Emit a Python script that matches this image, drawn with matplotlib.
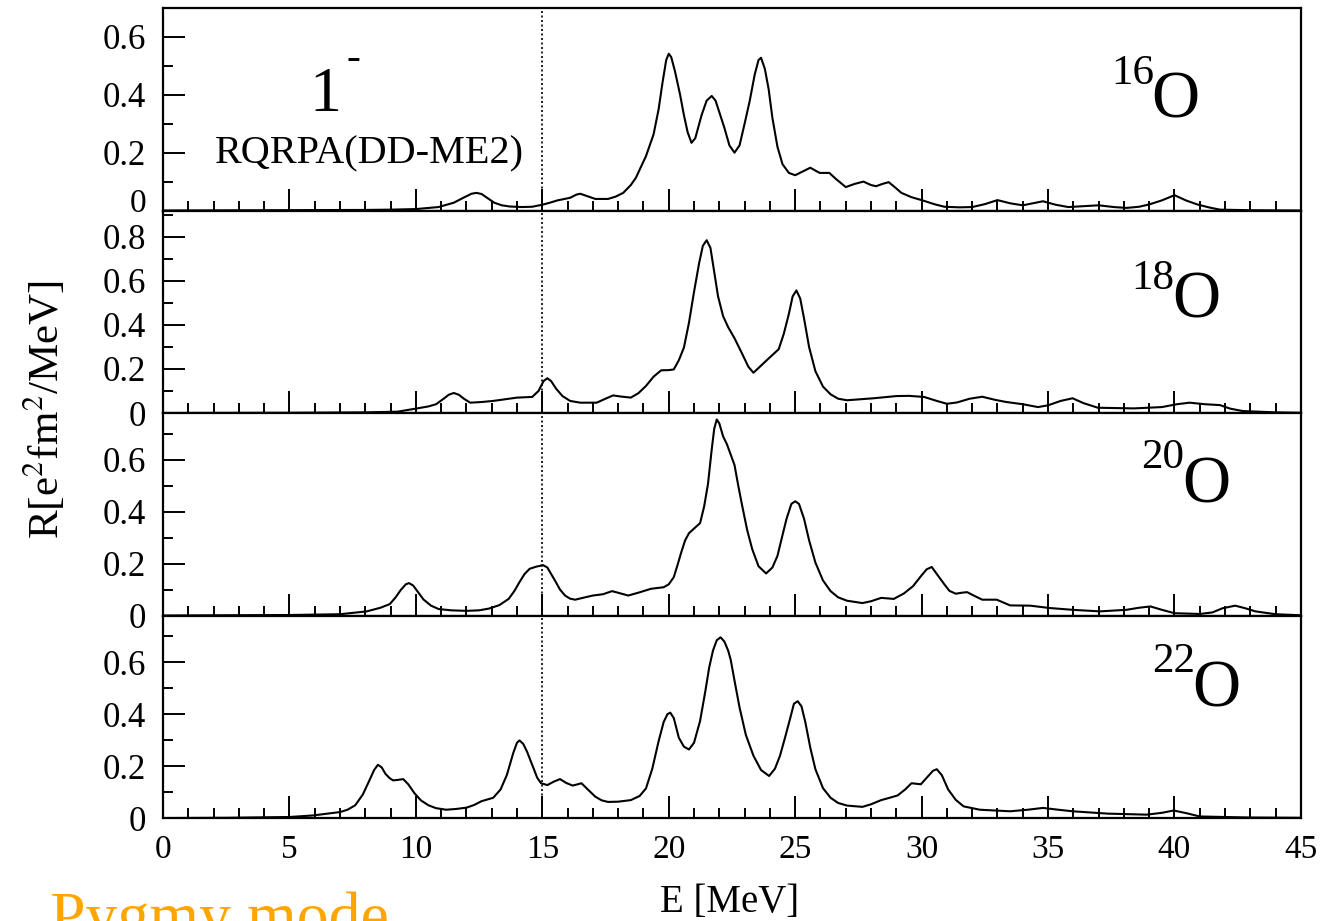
import numpy as np
import matplotlib
matplotlib.use("Agg")
import matplotlib.pyplot as plt
from matplotlib.ticker import MultipleLocator, FuncFormatter

plt.rcParams['font.family'] = ['Liberation Serif', 'DejaVu Serif']
plt.rcParams['mathtext.fontset'] = 'stix'

# RQRPA (DD-ME2) E1 strength for the oxygen chain
E16 = [0, 4, 8, 9, 10, 10.9, 11.5, 11.9, 12.2, 12.4, 12.6, 12.85, 13.1, 13.4,
       13.7, 14.2, 14.6, 15.0, 15.3, 15.6, 16.1, 16.35, 16.5, 16.7, 17.1, 17.6,
       17.9, 18.2, 18.5, 18.7, 19.1, 19.4, 19.6, 19.75, 19.9, 20.0, 20.1, 20.25,
       20.45, 20.6, 20.75, 20.9, 21.05, 21.3, 21.5, 21.7, 21.85, 22.0, 22.2,
       22.4, 22.6, 22.8, 23.0, 23.2, 23.4, 23.55, 23.65, 23.8, 23.95, 24.1,
       24.3, 24.5, 24.75, 25.0, 25.3, 25.6, 25.8, 25.97, 26.35, 26.6, 27.0,
       27.35, 27.7, 28.0, 28.2, 28.45, 28.7, 28.95, 29.2, 29.6, 30.0, 30.5,
       30.9, 31.5, 32.0, 32.5, 33.0, 33.5, 34.0, 34.4, 34.8, 35.3, 35.8, 36.4,
       37.0, 37.6, 38.1, 38.6, 39.0, 39.5, 40.0, 40.45, 40.9, 41.4, 41.8, 43, 45]
R16 = [0, 0.001, 0.002, 0.003, 0.005, 0.012, 0.027, 0.045, 0.058, 0.061, 0.057,
       0.042, 0.027, 0.018, 0.014, 0.012, 0.013, 0.02, 0.027, 0.035, 0.044,
       0.055, 0.058, 0.052, 0.040, 0.040, 0.048, 0.061, 0.088, 0.113, 0.188,
       0.263, 0.35, 0.44, 0.52, 0.542, 0.53, 0.48, 0.40, 0.33, 0.27, 0.234,
       0.25, 0.33, 0.38, 0.396, 0.38, 0.34, 0.286, 0.225, 0.20, 0.225, 0.30,
       0.378, 0.47, 0.52, 0.528, 0.49, 0.42, 0.32, 0.22, 0.16, 0.13, 0.122,
       0.135, 0.148, 0.138, 0.130, 0.130, 0.11, 0.081, 0.092, 0.10, 0.088,
       0.084, 0.092, 0.098, 0.08, 0.061, 0.046, 0.036, 0.022, 0.013, 0.011,
       0.012, 0.022, 0.036, 0.025, 0.018, 0.025, 0.032, 0.02, 0.012, 0.015,
       0.018, 0.012, 0.009, 0.013, 0.021, 0.035, 0.053, 0.035, 0.021, 0.01,
       0.003, 0.001, 0]

E18 = [0, 5, 8, 9.27, 10.0, 10.5, 10.8, 11.1, 11.3, 11.5, 11.7, 11.9, 12.15,
       12.6, 13.06, 13.5, 14.0, 14.6, 14.85, 15.05, 15.2, 15.35, 15.55, 15.8,
       16.1, 16.5, 17.15, 17.5, 17.8, 18.1, 18.5, 18.8, 19.1, 19.4, 19.7, 20.0,
       20.2, 20.4, 20.6, 20.8, 21.0, 21.2, 21.35, 21.5, 21.65, 21.8, 21.95,
       22.15, 22.35, 22.6, 22.9, 23.15, 23.35, 23.6, 23.97, 24.35, 24.55,
       24.75, 24.9, 25.05, 25.2, 25.35, 25.55, 25.8, 26.1, 26.4, 26.7, 27.05,
       28.1, 29.0, 29.5, 30.1, 30.6, 31.0, 31.4, 31.9, 32.4, 32.9, 33.35, 34.0,
       34.6, 35.0, 35.5, 35.97, 36.4, 36.97, 38.4, 39.5, 40.1, 40.6, 41.2,
       41.8, 42.2, 42.7, 44, 45]
R18 = [0, 0.001, 0.003, 0.006, 0.02, 0.03, 0.04, 0.065, 0.083, 0.091, 0.083,
       0.065, 0.047, 0.05, 0.055, 0.062, 0.07, 0.073, 0.10, 0.145, 0.158,
       0.145, 0.11, 0.077, 0.055, 0.047, 0.047, 0.065, 0.080, 0.075, 0.07,
       0.09, 0.123, 0.165, 0.194, 0.195, 0.198, 0.24, 0.297, 0.41, 0.55, 0.68,
       0.76, 0.785, 0.75, 0.64, 0.53, 0.44, 0.39, 0.34, 0.27, 0.21, 0.183,
       0.21, 0.25, 0.29, 0.36, 0.45, 0.53, 0.557, 0.52, 0.43, 0.30, 0.19, 0.12,
       0.085, 0.065, 0.058, 0.067, 0.077, 0.078, 0.073, 0.055, 0.042, 0.048,
       0.065, 0.074, 0.06, 0.05, 0.04, 0.027, 0.035, 0.055, 0.067, 0.045,
       0.024, 0.021, 0.027, 0.04, 0.047, 0.04, 0.036, 0.02, 0.009, 0.003,
       0.001]

E20 = [0, 5, 7.0, 8.06, 8.6, 8.97, 9.2, 9.4, 9.6, 9.73, 9.9, 10.05, 10.3,
       10.6, 10.9, 11.4, 12.0, 12.5, 12.9, 13.3, 13.67, 13.9, 14.1, 14.3,
       14.5, 14.75, 15.03, 15.2, 15.35, 15.5, 15.7, 15.9, 16.1, 16.3, 16.6,
       17.0, 17.4, 17.76, 18.1, 18.4, 18.8, 19.3, 19.8, 20.0, 20.2, 20.35,
       20.5, 20.65, 20.8, 21.0, 21.24, 21.4, 21.55, 21.7, 21.8, 21.9, 22.0,
       22.15, 22.3, 22.45, 22.6, 22.75, 22.9, 23.1, 23.3, 23.55, 23.85, 24.1,
       24.3, 24.5, 24.66, 24.85, 25.0, 25.15, 25.35, 25.55, 25.8, 26.1, 26.4,
       26.7, 27.05, 27.66, 28.0, 28.4, 28.9, 29.3, 29.66, 30.0, 30.2, 30.4,
       30.6, 30.9, 31.1, 31.35, 31.6, 31.8, 32.1, 32.4, 32.97, 33.5, 34.3,
       35.05, 35.97, 37.05, 38.1, 38.6, 39.05, 39.5, 40.0, 41.0, 41.5, 41.9,
       42.4, 42.8, 43.2, 44.0, 45]
R20 = [0, 0.002, 0.005, 0.016, 0.03, 0.044, 0.07, 0.098, 0.12, 0.125, 0.115,
       0.095, 0.062, 0.038, 0.025, 0.02, 0.018, 0.02, 0.027, 0.04, 0.064,
       0.095, 0.129, 0.16, 0.18, 0.188, 0.194, 0.185, 0.16, 0.135, 0.10, 0.077,
       0.065, 0.061, 0.068, 0.077, 0.082, 0.094, 0.085, 0.077, 0.088, 0.103,
       0.109, 0.12, 0.148, 0.195, 0.245, 0.29, 0.317, 0.335, 0.356, 0.42,
       0.505, 0.64, 0.72, 0.755, 0.74, 0.69, 0.66, 0.62, 0.58, 0.50, 0.425,
       0.33, 0.256, 0.19, 0.162, 0.185, 0.23, 0.31, 0.373, 0.43, 0.44, 0.43,
       0.373, 0.29, 0.204, 0.135, 0.094, 0.07, 0.057, 0.048, 0.055, 0.068,
       0.064, 0.085, 0.113, 0.155, 0.178, 0.187, 0.16, 0.12, 0.095, 0.084,
       0.088, 0.09, 0.075, 0.061, 0.061, 0.039, 0.038, 0.029, 0.022, 0.016,
       0.022, 0.03, 0.035, 0.022, 0.009, 0.006, 0.012, 0.028, 0.038, 0.028,
       0.016, 0.005, 0.001]

E22 = [0, 2.5, 5.0, 5.94, 7.0, 7.3, 7.6, 7.9, 8.14, 8.35, 8.5, 8.65, 8.8,
       8.97, 9.1, 9.3, 9.5, 9.7, 9.95, 10.2, 10.5, 10.8, 11.2, 11.6, 12.0,
       12.3, 12.6, 13.06, 13.35, 13.6, 13.85, 14.0, 14.1, 14.25, 14.4, 14.6,
       14.8, 14.95, 15.2, 15.45, 15.7, 15.95, 16.2, 16.4, 16.55, 16.8, 17.1,
       17.35, 17.6, 18.0, 18.5, 18.85, 19.1, 19.35, 19.6, 19.8, 19.95, 20.06,
       20.2, 20.4, 20.6, 20.8, 21.0, 21.24, 21.45, 21.6, 21.75, 21.9, 22.05,
       22.2, 22.35, 22.45, 22.6, 22.8, 23.05, 23.35, 23.65, 23.97, 24.2, 24.4,
       24.6, 24.8, 24.95, 25.1, 25.25, 25.4, 25.6, 25.8, 26.1, 26.4, 26.7,
       27.05, 27.66, 28.0, 28.4, 28.7, 29.05, 29.35, 29.6, 29.97, 30.2, 30.45,
       30.6, 30.8, 31.05, 31.35, 31.66, 32.3, 33.5, 34.2, 34.8, 35.4, 35.97,
       37.35, 38.9, 39.5, 39.97, 40.5, 41.0, 43, 45]
R22 = [0, 0.001, 0.004, 0.01, 0.023, 0.032, 0.049, 0.09, 0.14, 0.185, 0.205,
       0.195, 0.17, 0.153, 0.145, 0.147, 0.15, 0.13, 0.095, 0.068, 0.049,
       0.038, 0.032, 0.035, 0.04, 0.05, 0.065, 0.078, 0.11, 0.166, 0.25, 0.29,
       0.299, 0.285, 0.255, 0.205, 0.155, 0.134, 0.127, 0.14, 0.15, 0.135,
       0.125, 0.13, 0.134, 0.11, 0.082, 0.068, 0.062, 0.063, 0.069, 0.085,
       0.114, 0.19, 0.296, 0.37, 0.40, 0.406, 0.385, 0.309, 0.275, 0.264, 0.29,
       0.374, 0.49, 0.58, 0.645, 0.685, 0.696, 0.68, 0.645, 0.61, 0.53, 0.426,
       0.32, 0.24, 0.185, 0.162, 0.19, 0.24, 0.31, 0.383, 0.44, 0.45, 0.43,
       0.37, 0.27, 0.188, 0.115, 0.078, 0.058, 0.048, 0.043, 0.053, 0.069,
       0.077, 0.087, 0.11, 0.134, 0.13, 0.155, 0.182, 0.188, 0.165, 0.11, 0.07,
       0.045, 0.032, 0.026, 0.032, 0.039, 0.032, 0.026, 0.017, 0.013, 0.02,
       0.029, 0.018, 0.006, 0.002, 0.001]

mass_numbers = ["16", "18", "20", "22"]
energies = [E16, E18, E20, E22]
strengths = [R16, R18, R20, R22]
ymax = [0.70, 0.92, 0.78, 0.78]
pygmy_cut = 15.0

# (E of "O", axes-y of baseline) for the nucleus labels
label_pos = [(39.1, 0.46), (39.9, 0.47), (40.3, 0.56), (40.7, 0.55)]
sup_dy = [0.165, 0.14, 0.167, 0.173]

fig = plt.figure(figsize=(13.26, 9.21), dpi=100)
gs = fig.add_gridspec(4, 1, left=0.1229, right=0.9811, top=0.9913,
                      bottom=0.1118, hspace=0)

fmt = FuncFormatter(lambda v, p: "0" if abs(v) < 1e-9 else f"{v:.1f}")
# top panel: zero label drawn separately, a bit higher
fmt_top = FuncFormatter(lambda v, p: "" if abs(v) < 1e-9 else f"{v:.1f}")

for i in range(4):
    ax = fig.add_subplot(gs[i])
    ax.plot(energies[i], strengths[i], color="black", lw=1.5)
    ax.axvline(pygmy_cut, color="black", ls=(0, (1.2, 1.5)), lw=1.2)
    ax.set_xlim(0, 45)
    ax.set_ylim(0, ymax[i])

    ax.xaxis.set_major_locator(MultipleLocator(5))
    ax.xaxis.set_minor_locator(MultipleLocator(1))
    ax.yaxis.set_major_locator(MultipleLocator(0.2))
    ax.yaxis.set_minor_locator(MultipleLocator(0.1))
    ax.yaxis.set_major_formatter(fmt_top if i == 0 else fmt)
    ax.tick_params(which="both", direction="in", top=False, right=False,
                   width=1.4)
    ax.tick_params(which="major", length=16)
    ax.tick_params(which="minor", length=7.5)
    ax.tick_params(axis="y", pad=12, labelsize=25)
    ax.tick_params(axis="x", pad=12, labelsize=24)
    for s in ax.spines.values():
        s.set_linewidth(1.6)
    if i < 3:
        ax.tick_params(axis="x", labelbottom=False)

    tr = ax.get_xaxis_transform()
    xo, yo = label_pos[i]
    ax.text(xo, yo, "O", transform=tr, fontsize=48, ha="left", va="baseline")
    ax.text(xo + 0.1, yo + sup_dy[i], mass_numbers[i], transform=tr,
            fontsize=31, ha="right", va="baseline")

    if i == 0:
        ax.annotate("0", xy=(0, 0), xycoords=ax.get_yaxis_transform(),
                    xytext=(-12, 5), textcoords="offset points",
                    ha="right", va="center", fontsize=24)
        ax.text(5.8, 0.49, "1", transform=tr, fontsize=46, ha="left",
                va="baseline")
        ax.text(7.55, 0.75, "-", transform=tr, fontsize=30, ha="center",
                va="center")
        ax.text(2.06, 0.233, "RQRPA(DD-ME2)", transform=tr, fontsize=29,
                ha="left", va="baseline")

fig.text(0.034, 0.555, r"R[e$^2$fm$^2$/MeV]", rotation=90, fontsize=31,
         ha="center", va="center")
fig.text(730 / 1326, 1 - 912 / 921, "E [MeV]", fontsize=28, ha="center",
         va="baseline")
fig.text(50 / 1326, 1 - 936 / 921, "Pygmy mode", fontsize=46, color="#FFA500",
         ha="left", va="baseline")

fig.savefig("out.png", dpi=100)
